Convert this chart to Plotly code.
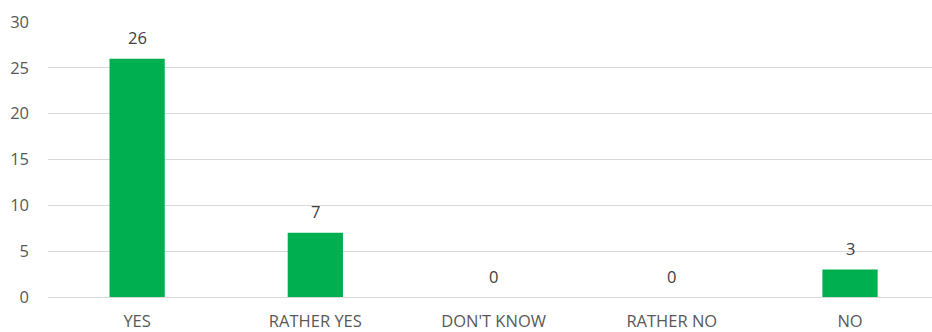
import plotly.graph_objects as go

categories = ["YES", "RATHER YES", "DON'T KNOW", "RATHER NO", "NO"]
values = [26, 7, 0, 0, 3]
y_ticks = [0, 5, 10, 15, 20, 25, 30]

font_family = "Open Sans, Arial, sans-serif"
text_color = "#595959"

fig = go.Figure()
fig.add_trace(go.Bar(
    x=categories,
    y=values,
    marker=dict(color="#00B050", line=dict(width=0)),
    width=0.31,
    hoverinfo="x+y",
))

for c, v in zip(categories, values):
    fig.add_annotation(
        x=c, y=v, text=str(v), showarrow=False,
        yanchor="middle", yshift=21,
        font=dict(family=font_family, size=16.5, color="#404040"),
    )

fig.update_layout(
    width=932, height=332,
    margin=dict(l=48, r=0, t=22, b=35),
    paper_bgcolor="white", plot_bgcolor="white",
    showlegend=False,
    font=dict(family=font_family, size=16, color=text_color),
    xaxis=dict(
        range=[-0.5, 4.46],
        showgrid=False, showline=False, zeroline=False,
        ticks="", tickfont=dict(size=16.5, color=text_color),
        ticklabelstandoff=12,
    ),
    yaxis=dict(
        range=[0, 30],
        tickvals=y_ticks,
        showgrid=True, gridcolor="#D9D9D9", gridwidth=1,
        zeroline=True, zerolinecolor="#D9D9D9", zerolinewidth=1,
        showline=False, ticks="",
        tickfont=dict(size=16.5, color=text_color),
        ticklabelstandoff=18,
    ),
)

fig.write_html("out.html")
